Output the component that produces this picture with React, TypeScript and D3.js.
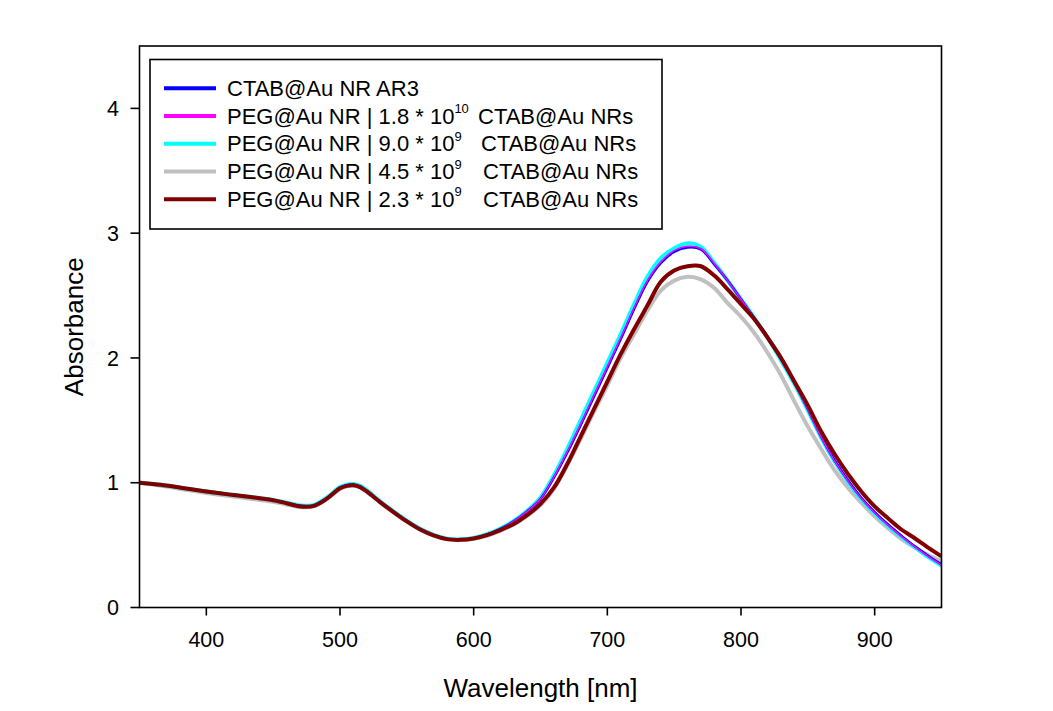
import React from "react";
import * as d3 from "d3";

const wavelengths = [350,360,370,380,390,400,410,420,430,440,450,460,470,480,490,500,505,510,515,520,530,540,550,560,570,580,590,600,610,620,630,640,650,660,670,680,690,700,710,720,730,740,750,760,770,780,790,800,810,820,830,840,850,860,870,880,890,900,910,920,930,940,950];

const ctab = [1.0,0.99,0.978,0.962,0.946,0.931,0.916,0.903,0.89,0.876,0.861,0.838,0.815,0.817,0.876,0.96,0.98,0.985,0.97,0.935,0.848,0.768,0.692,0.628,0.58,0.55,0.544,0.556,0.585,0.63,0.69,0.77,0.87,1.04,1.24,1.46,1.69,1.92,2.15,2.39,2.61,2.76,2.85,2.885,2.87,2.75,2.62,2.47,2.32,2.17,1.99,1.80,1.59,1.37,1.18,1.02,0.88,0.765,0.665,0.575,0.49,0.415,0.345];

const peg18 = [1.0,0.99,0.978,0.962,0.946,0.931,0.916,0.903,0.89,0.876,0.861,0.838,0.815,0.817,0.876,0.96,0.98,0.985,0.97,0.935,0.848,0.768,0.692,0.628,0.58,0.55,0.544,0.556,0.585,0.63,0.69,0.77,0.87,1.045,1.25,1.47,1.70,1.93,2.16,2.40,2.62,2.77,2.86,2.895,2.875,2.755,2.62,2.47,2.32,2.16,1.98,1.79,1.585,1.365,1.175,1.015,0.875,0.76,0.66,0.57,0.488,0.41,0.34];

const peg90 = [1.0,0.99,0.978,0.962,0.946,0.931,0.916,0.903,0.89,0.877,0.862,0.84,0.818,0.82,0.88,0.965,0.985,0.99,0.975,0.94,0.85,0.77,0.695,0.63,0.582,0.552,0.546,0.558,0.587,0.633,0.693,0.775,0.88,1.06,1.27,1.50,1.73,1.96,2.19,2.43,2.65,2.80,2.88,2.92,2.89,2.76,2.62,2.47,2.32,2.16,1.98,1.79,1.58,1.36,1.17,1.01,0.87,0.755,0.655,0.565,0.485,0.405,0.335];

const peg45 = [1.0,0.985,0.97,0.952,0.935,0.918,0.903,0.889,0.876,0.862,0.848,0.826,0.805,0.81,0.868,0.95,0.972,0.977,0.962,0.927,0.843,0.763,0.688,0.623,0.576,0.546,0.54,0.55,0.575,0.615,0.665,0.735,0.82,0.95,1.14,1.35,1.57,1.78,2.0,2.19,2.38,2.54,2.62,2.65,2.63,2.56,2.44,2.33,2.20,2.04,1.86,1.65,1.45,1.27,1.10,0.96,0.84,0.73,0.635,0.55,0.48,0.42,0.37];

const peg23 = [1.0,0.99,0.978,0.962,0.945,0.93,0.915,0.902,0.889,0.875,0.86,0.836,0.81,0.812,0.87,0.955,0.975,0.98,0.965,0.93,0.845,0.765,0.69,0.625,0.578,0.548,0.542,0.553,0.58,0.62,0.67,0.74,0.83,0.96,1.15,1.37,1.59,1.81,2.03,2.23,2.42,2.61,2.70,2.735,2.735,2.66,2.55,2.43,2.31,2.16,2.0,1.81,1.62,1.41,1.23,1.07,0.93,0.81,0.715,0.625,0.555,0.48,0.41];

const xTicks = [400, 500, 600, 700, 800, 900];
const yTicks = [0, 1, 2, 3, 4];

type Series = { name: string; values: number[]; color: string; width: number };

const drawOrder: Series[] = [
  { name: "gray", values: peg45, color: "#C0C0C0", width: 4 },
  { name: "cyan", values: peg90, color: "#00FFFF", width: 4 },
  { name: "blue", values: ctab, color: "#0000FF", width: 2.5 },
  { name: "magenta", values: peg18, color: "#FF00FF", width: 1.5 },
  { name: "brown", values: peg23, color: "#800000", width: 4 },
];

const legendRows = [
  { color: "#0000FF", head: "CTAB@Au NR AR3", sup: "", tail: "", tailX: 0 },
  { color: "#FF00FF", head: "PEG@Au NR | 1.8 * 10", sup: "10", tail: "CTAB@Au NRs", tailX: 478 },
  { color: "#00FFFF", head: "PEG@Au NR | 9.0 * 10", sup: "9", tail: "CTAB@Au NRs", tailX: 481 },
  { color: "#C0C0C0", head: "PEG@Au NR | 4.5 * 10", sup: "9", tail: "CTAB@Au NRs", tailX: 483 },
  { color: "#800000", head: "PEG@Au NR | 2.3 * 10", sup: "9", tail: "CTAB@Au NRs", tailX: 483 },
];

export default function App() {
  const W = 1053, H = 711;
  const left = 139.5, right = 941.5, top = 46, bottom = 607.5;
  const x = d3.scaleLinear().domain([350, 950]).range([left, right]);
  const y = d3.scaleLinear().domain([0, 4.5]).range([bottom, top]);
  const line = (vals: number[]) =>
    d3.line<number>()
      .x((_, i) => x(wavelengths[i]))
      .y((v) => y(v))
      .curve(d3.curveCatmullRom.alpha(0.5))(vals) || "";
  const font = "'Liberation Sans', Arial, sans-serif";

  return (
    <svg width={W} height={H} style={{ position: "absolute", left: 0, top: 0, background: "#fff" }} fontFamily={font}>
      <rect x={0} y={0} width={W} height={H} fill="#fff" />
      <defs>
        <clipPath id="plotclip">
          <rect x={left} y={top} width={right - left} height={bottom - top} />
        </clipPath>
      </defs>
      <g clipPath="url(#plotclip)">
        {drawOrder.map((s) => (
          <path key={s.name} d={line(s.values)} fill="none" stroke={s.color} strokeWidth={s.width} strokeLinejoin="round" />
        ))}
      </g>
      <rect x={left} y={top} width={right - left} height={bottom - top} fill="none" stroke="#000" strokeWidth={1.6} />
      {xTicks.map((t) => (
        <g key={"x" + t}>
          <line x1={x(t)} x2={x(t)} y1={bottom} y2={bottom + 8} stroke="#000" strokeWidth={1.6} />
          <text x={x(t)} y={647} fontSize={21.5} textAnchor="middle" fill="#000">{t}</text>
        </g>
      ))}
      {yTicks.map((t) => (
        <g key={"y" + t}>
          <line x1={left - 9} x2={left} y1={y(t)} y2={y(t)} stroke="#000" strokeWidth={1.6} />
          <text x={119} y={y(t) + 7.7} fontSize={21.5} textAnchor="end" fill="#000">{t}</text>
        </g>
      ))}
      <text x={(left + right) / 2} y={697} fontSize={26} textAnchor="middle" fill="#000">Wavelength [nm]</text>
      <text transform={`translate(83,${(top + bottom) / 2}) rotate(-90)`} fontSize={26} textAnchor="middle" fill="#000">Absorbance</text>
      <rect x={150} y={59.5} width={512} height={169.5} fill="#fff" stroke="#000" strokeWidth={1.6} />
      {legendRows.map((r, i) => {
        const ly = 88.3 + i * 27.75;
        return (
          <g key={"lg" + i}>
            <line x1={164} x2={216} y1={ly} y2={ly} stroke={r.color} strokeWidth={4} />
            <text x={227} y={ly + 7.5} fontSize={22} fill="#000">
              {r.head}
              {r.sup ? <tspan fontSize={13} dy={-10.5}>{r.sup}</tspan> : null}
              {r.tail ? <tspan x={r.tailX} dy={10.5}>{r.tail}</tspan> : null}
            </text>
          </g>
        );
      })}
    </svg>
  );
}
